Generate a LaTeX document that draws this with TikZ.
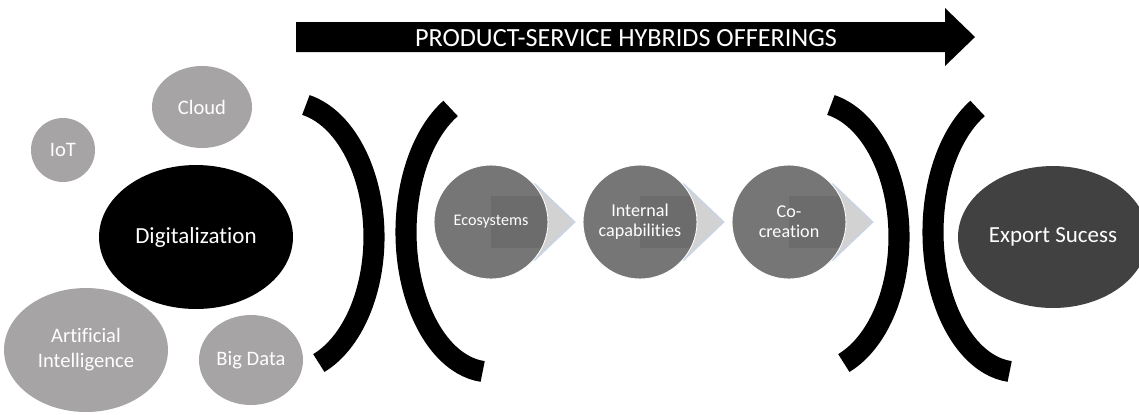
\documentclass[tikz,border=0pt]{standalone}
\usepackage{fontspec}
\setmainfont{Carlito}[Ligatures={NoCommon,NoRequired,NoContextual}]
\usetikzlibrary{calc,shapes.geometric}
\definecolor{satgray}{HTML}{A6A4A4}
\definecolor{ecogray}{HTML}{767676}
\definecolor{sqgray}{HTML}{6C6C6C}
\definecolor{expgray}{HTML}{414141}
\definecolor{chevgray}{HTML}{D2D2D2}
\definecolor{chevblue}{HTML}{C5D5EC}
\pgfdeclarelayer{bg}
\pgfsetlayers{bg,main}
\tikzset{
  sat/.style={ellipse, fill=satgray, text=white, inner sep=0pt, align=center,
    font=\fontsize{11.7}{14.2}\selectfont},
  eco/.style={circle, fill=ecogray, draw=white, line width=0.5pt, text=white,
    inner sep=0pt, align=center, minimum size=2.28cm,
    font=\fontsize{10.3}{11.3}\selectfont,
    path picture={\fill[sqgray] ($(path picture bounding box.center)+(0,0.52cm)$)
      rectangle ($(path picture bounding box.east)+(0.2cm,-0.52cm)$);}},
  chev/.style={fill=chevgray, draw=chevblue, line width=0.6pt, line join=miter},
  brk/.style={line width=12pt, line cap=butt},
  bigell/.style={ellipse, inner sep=0pt, text=white, font=\fontsize{13.1}{15}\selectfont}
}
\begin{document}
\begin{tikzpicture}[x=0.02cm,y=-0.02cm]
\useasboundingbox (0,0) rectangle (1139,414);
\clip (0,0) rectangle (1139,414);

% top arrow
\fill[black] (296,22) -- (945,22) -- (945,8) -- (975,37) -- (945,66) -- (945,52) -- (296,52) -- cycle;
\node[text=white, font=\fontsize{14.9}{16}\selectfont] (title) at (626,38) {PRODUCT-SERVICE HYBRIDS OFFERINGS};

% left cluster
\node[sat, minimum width=1.28cm, minimum height=1.28cm] (iot) at (63,150) {IoT};
\node[sat, minimum width=2.0cm, minimum height=1.64cm] (cloud) at (202,107) {Cloud};
\node[sat, minimum width=3.28cm, minimum height=2.48cm] (ai) at (86,350) {Artificial\\Intelligence};
\node[sat, minimum width=2.08cm, minimum height=1.8cm] (bigdata) at (251,360) {Big Data};
\node[bigell, fill=black, minimum width=3.88cm, minimum height=2.88cm] (dig) at (196,237) {Digitalization};

% brackets
\draw[brk] ($(288,237)+(78:1.72cm and 2.7cm)$) arc[start angle=78, end angle=-69, x radius=1.72cm, y radius=2.7cm];
\draw[brk] ($(490,232)+(118:1.68cm and 2.8cm)$) arc[start angle=118, end angle=265, x radius=1.68cm, y radius=2.8cm];
\draw[brk] ($(813,237)+(78:1.72cm and 2.7cm)$) arc[start angle=78, end angle=-69, x radius=1.72cm, y radius=2.7cm];
\draw[brk] ($(1017,232)+(118:1.68cm and 2.8cm)$) arc[start angle=118, end angle=265, x radius=1.68cm, y radius=2.8cm];

% process circles
\node[eco, font=\fontsize{9.2}{11}\selectfont] (e1) at (491,222) {Ecosystems};
\node[eco] (e2) at (640,222) {Internal\\capabilities};
\node[eco] (e3) at (789,222) {Co-\\creation};

% chevrons behind circles
\begin{pgfonlayer}{bg}
\foreach \n in {e1,e2,e3}{
  \draw[chev] ($(\n.center)+(44,-38)$) -- ($(\n.center)+(84,0)$) -- ($(\n.center)+(44,38)$)
    -- ($(\n.center)+(4,38)$) -- ($(\n.center)+(44,0)$) -- ($(\n.center)+(4,-38)$) -- cycle;
}
\end{pgfonlayer}

% export success
\node[bigell, fill=expgray, minimum width=3.8cm, minimum height=2.84cm] (exp) at (1053,237) {Export Sucess};
\end{tikzpicture}
\end{document}
